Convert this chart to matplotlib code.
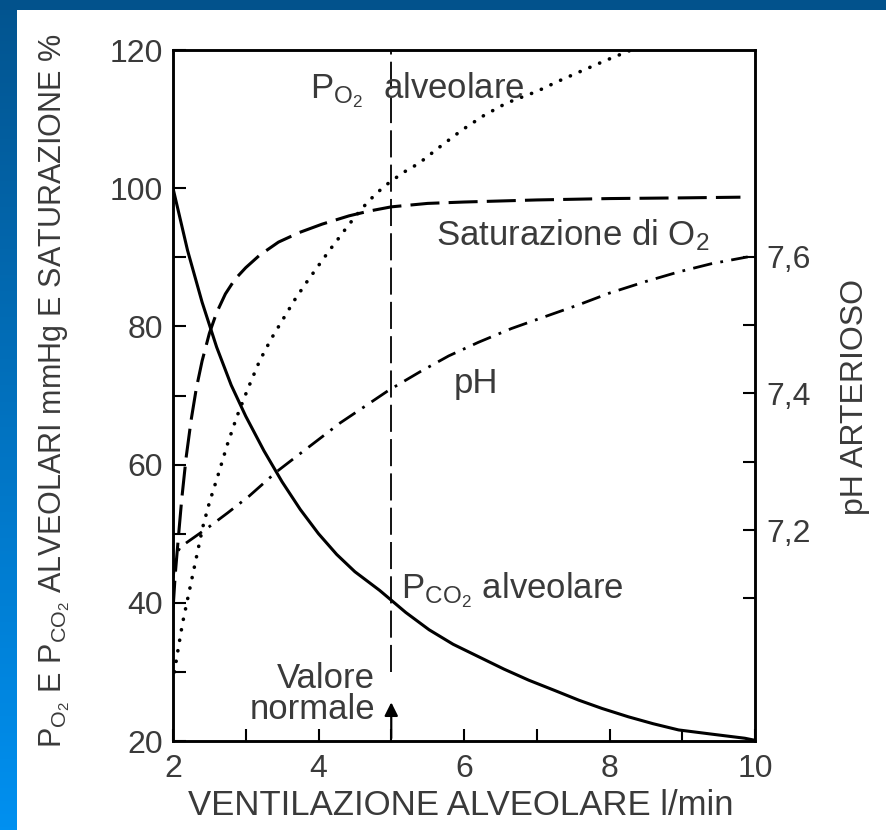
import numpy as np
import matplotlib
matplotlib.use('Agg')
import matplotlib.pyplot as plt
from matplotlib.colors import LinearSegmentedColormap

plt.rcParams['font.family'] = ['Liberation Sans', 'DejaVu Sans']
plt.rcParams['mathtext.fontset'] = 'custom'
plt.rcParams['mathtext.rm'] = 'Liberation Sans'
plt.rcParams['mathtext.it'] = 'Liberation Sans'
plt.rcParams['mathtext.default'] = 'rm'

TXT = '#3a3a3a'

# ventilazione alveolare (l/min) -> valori
pco2_x = [2.0, 2.2, 2.4, 2.6, 2.8, 3.0, 3.25, 3.5, 3.75, 4.0, 4.25, 4.5, 4.84, 5.2, 5.52,
          5.85, 6.2, 6.55, 6.89, 7.25, 7.58, 7.9, 8.26, 8.6, 8.95, 9.4, 9.86, 10.0]
pco2_y = [100, 91, 83.5, 77, 71.5, 67, 62, 57.5, 53.5, 50, 47, 44.5, 41.8, 38.6, 36.1,
          34, 32.2, 30.4, 28.8, 27.3, 25.9, 24.7, 23.5, 22.5, 21.6, 21.0, 20.4, 20.1]

po2_x = [2.02, 2.05, 2.09, 2.13, 2.19, 2.26, 2.33, 2.41, 2.5, 2.62, 2.75, 2.88, 3.03, 3.19,
         3.35, 3.51, 3.67, 3.83, 4.0, 4.15, 4.28, 4.4, 4.53, 4.66, 4.8, 4.97, 5.17, 5.38,
         5.67, 5.97, 6.27, 6.58, 6.8, 7.0, 7.3, 7.58, 7.95, 8.3]
po2_y = [30, 32, 34.5, 37, 40, 43.5, 47, 51, 54.5, 58.5, 63, 67, 71, 75,
         78.2, 81, 83.8, 86.3, 88.8, 91, 92.8, 94.5, 96.2, 97.8, 99.3, 100.8, 102.3, 103.6,
         106, 108.4, 110.5, 112.3, 113.2, 114, 115.5, 116.8, 118.5, 120]

sat_x = [2.0, 2.03, 2.07, 2.12, 2.18, 2.25, 2.32, 2.4, 2.5, 2.6, 2.72, 2.85, 3.0, 3.19,
         3.45, 3.74, 4.05, 4.42, 4.7, 5.0, 5.5, 6.0, 7.0, 8.0, 9.0, 9.8]
sat_y = [39, 44, 49, 55, 61, 66.5, 71, 75, 79, 82, 84.7, 86.8, 88.5, 90.3,
         92.2, 93.6, 94.8, 96.0, 96.7, 97.3, 97.8, 98.0, 98.3, 98.5, 98.6, 98.7]

ph_x = [2.0, 2.05, 2.1, 2.3, 2.5, 2.75, 3.05, 3.42, 3.7, 3.97, 4.3, 4.65, 4.97, 5.4,
        5.79, 6.2, 6.65, 7.1, 7.58, 8.0, 8.5, 8.95, 9.4, 9.9]
ph_y = [7.13, 7.165, 7.175, 7.19, 7.205, 7.225, 7.25, 7.285, 7.308, 7.33, 7.357, 7.382, 7.405, 7.432,
        7.455, 7.475, 7.495, 7.512, 7.53, 7.547, 7.564, 7.578, 7.59, 7.6]

NORMAL_VENT = 5.0

x_ticks = [2, 4, 6, 8, 10]
y_ticks = [20, 40, 60, 80, 100, 120]
ph_ticks = [7.2, 7.4, 7.6]
ph_labels = ['7,2', '7,4', '7,6']

fig = plt.figure(figsize=(8.86, 8.30), dpi=100)
fig.patch.set_facecolor('white')

# bordo blu (sfumatura a sinistra, banda in alto)
cmap = LinearSegmentedColormap.from_list('bl', ['#0090f0', '#03548f'])
strip = fig.add_axes([0, 0, 17 / 886, 1])
strip.imshow(np.linspace(0, 1, 256).reshape(-1, 1), aspect='auto', cmap=cmap, origin='lower')
strip.axis('off')
top = fig.add_axes([0, 1 - 10 / 830, 1, 10 / 830])
top.set_facecolor('#02528c')
top.set_xticks([]); top.set_yticks([])
for s in top.spines.values():
    s.set_visible(False)

ax = fig.add_axes([173 / 886, 1 - 741 / 830, 582 / 886, 691 / 830])
ax.set_xlim(2, 10)
ax.set_ylim(20, 120)

ax.plot(pco2_x, pco2_y, color='black', lw=2.2, solid_capstyle='round', solid_joinstyle='round')
ax.plot(po2_x, po2_y, color='black', lw=2.6, linestyle=(0, (0.05, 2.9)), dash_capstyle='round')
ax.plot(sat_x, sat_y, color='black', lw=2.2, linestyle=(0, (9.5, 3)))
ax.plot([NORMAL_VENT, NORMAL_VENT], [30, 120], color='black', lw=1.3, linestyle=(0, (15, 4)))
ax.annotate('', xy=(NORMAL_VENT, 26), xytext=(NORMAL_VENT, 20),
            arrowprops=dict(arrowstyle='-|>', color='black', lw=1.6, mutation_scale=20))

ax2 = ax.twinx()
ax2.set_ylim(6.891, 7.903)
ax2.plot(ph_x, ph_y, color='black', lw=2.0, linestyle=(0, (7, 3, 1, 3)))

ax.set_xticks(x_ticks)
ax.set_xticks([3, 5, 7, 9], minor=True)
ax.set_yticks(y_ticks)
ax.set_yticks([30, 50, 70, 90], minor=True)
ax.tick_params(axis='both', which='both', direction='in', length=9, width=1.5,
               colors='black', labelcolor=TXT, labelsize=23)
ax.tick_params(axis='x', pad=9)
ax.tick_params(axis='y', pad=7, right=False)
ax.tick_params(axis='x', top=False)

ax2.set_yticks(ph_ticks)
ax2.set_yticklabels(ph_labels)
ax2.set_yticks([7.1, 7.3, 7.5], minor=True)
ax2.tick_params(axis='y', which='both', direction='in', length=9, width=1.5,
                colors='black', labelcolor=TXT, labelsize=23, pad=8)

for a in (ax, ax2):
    for s in a.spines.values():
        s.set_linewidth(1.8)

fig.text(461 / 886, 1 - 815 / 830, 'VENTILAZIONE ALVEOLARE l/min',
         ha='center', va='baseline', fontsize=25, color=TXT)
fig.text(55 / 886, 1 - 391 / 830,
         r'P$_{O_2}$ E P$_{CO_2}$ ALVEOLARI mmHg E SATURAZIONE %',
         rotation=90, ha='center', va='center', fontsize=22, color=TXT)
fig.text(855 / 886, 1 - 397 / 830, 'pH ARTERIOSO', rotation=90,
         ha='center', va='center', fontsize=23, color=TXT)

ax.text(3.88, 114.2, r'P$_{O_2}$  alveolare', fontsize=25, color=TXT, va='center', ha='left')
ax.text(5.62, 93.2, r'Saturazione di O$_2$', fontsize=25, color=TXT, va='center', ha='left')
ax.text(5.86, 71.8, 'pH', fontsize=25, color=TXT, va='center', ha='left')
ax.text(5.14, 41.9, r'P$_{CO_2}$ alveolare', fontsize=25, color=TXT, va='center', ha='left')
ax.text(4.78, 26.8, 'Valore\nnormale', fontsize=25, color=TXT, va='center', ha='right',
        linespacing=0.95)

fig.savefig('out.png', dpi=100)
